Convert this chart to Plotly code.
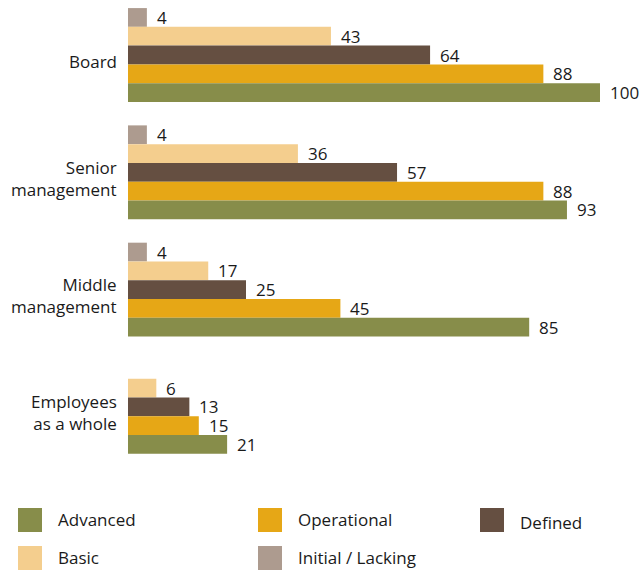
import plotly.graph_objects as go

# Maturity of risk management by organisational level (% of respondents)
categories = ["Board", "Senior management", "Middle management", "Employees as a whole"]
category_labels = ["Board", "Senior<br>management", "Middle<br>management", "Employees<br>as a whole"]

series_names = ["Initial / Lacking", "Basic", "Defined", "Operational", "Advanced"]
initial_lacking = [4, 4, 4, None]
basic = [43, 36, 17, 6]
defined = [64, 57, 25, 13]
operational = [88, 88, 45, 15]
advanced = [100, 93, 85, 21]
series_values = [initial_lacking, basic, defined, operational, advanced]

colors = {
    "Initial / Lacking": "#ad9b8f",
    "Basic": "#f4ce8e",
    "Defined": "#654f41",
    "Operational": "#e6a716",
    "Advanced": "#878d4a",
}

legend_rows = [["Advanced", "Operational", "Defined"], ["Basic", "Initial / Lacking"]]

FONT = "Open Sans"
TEXT_COLOR = "#1a1a1a"
W, H = 641, 573
ML, MR, MT, MB = 128, 3, 2, 107
PLOT_W = W - ML - MR
PLOT_H = H - MT - MB


def px_x(x):
    return (x - ML) / PLOT_W


def px_y(y):
    return (H - MB - y) / PLOT_H


fig = go.Figure()
annotations = []

for name, vals in zip(series_names, series_values):
    fig.add_trace(go.Bar(
        y=categories,
        x=vals,
        name=name,
        orientation="h",
        marker=dict(color=colors[name], line=dict(width=0)),
        showlegend=False,
        hoverinfo="x+name",
    ))

# value labels next to each bar end, placed per bar within its group
n = len(series_names)
group_width = 0.8
slot = group_width / n
for k, (name, vals) in enumerate(zip(series_names, series_values)):
    offset = -group_width / 2 + slot * (k + 0.5)
    for i, v in enumerate(vals):
        if v is None:
            continue
        annotations.append(dict(
            x=v, y=i + offset, xref="x", yref="y",
            text=str(v), showarrow=False, xanchor="left", yanchor="middle",
            xshift=8, font=dict(family=FONT, size=17, color=TEXT_COLOR),
        ))

# category labels to the left of the bars
for i, lab in enumerate(category_labels):
    annotations.append(dict(
        x=0, y=i, xref="paper", yref="y", text=lab, showarrow=False,
        xanchor="right", yanchor="middle", align="right", xshift=-9, yshift=-6,
        font=dict(family=FONT, size=17, color=TEXT_COLOR),
    ))

# legend drawn as swatches with labels beneath the chart
shapes = []
col_x = [18, 258, 480]
row_y = [508, 546]
text_dy = [0, 0, 3]
for r, row in enumerate(legend_rows):
    for c, name in enumerate(row):
        x0, y0 = col_x[c], row_y[r]
        shapes.append(dict(
            type="rect", xref="paper", yref="paper",
            x0=px_x(x0), x1=px_x(x0 + 24), y0=px_y(y0 + 24), y1=px_y(y0),
            fillcolor=colors[name], line=dict(width=0),
        ))
        annotations.append(dict(
            x=px_x(x0 + 38), y=px_y(y0 + 11 + (text_dy[c] if r == 0 else 0)),
            xref="paper", yref="paper", text=name, showarrow=False,
            xanchor="left", yanchor="middle",
            font=dict(family=FONT, size=17, color=TEXT_COLOR),
        ))

pitch = 117.3
top_val = -(55 - MT) / pitch
fig.update_layout(
    width=W, height=H,
    margin=dict(l=ML, r=MR, t=MT, b=MB, pad=0),
    paper_bgcolor="white", plot_bgcolor="white",
    barmode="group", bargap=0.2, bargroupgap=0,
    font=dict(family=FONT, size=17, color=TEXT_COLOR),
    xaxis=dict(range=[0, PLOT_W / 4.72], visible=False, showgrid=False, zeroline=False),
    yaxis=dict(range=[top_val + PLOT_H / pitch, top_val], showticklabels=False,
               showgrid=False, zeroline=False, showline=False, ticks=""),
    annotations=annotations,
    shapes=shapes,
)

fig.write_html("out.html")
